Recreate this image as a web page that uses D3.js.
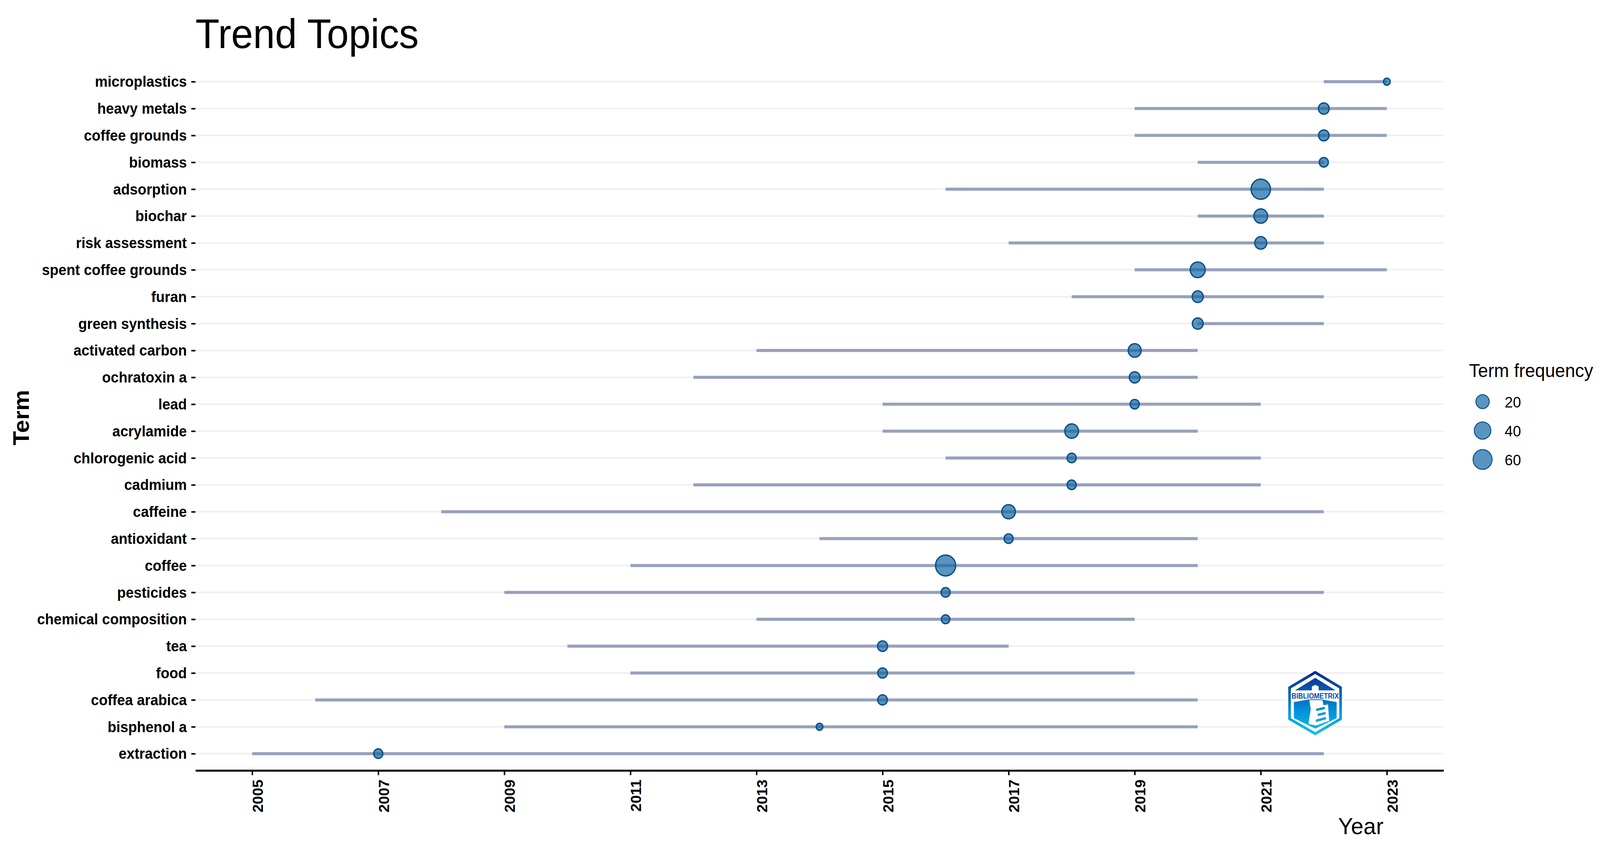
<!DOCTYPE html>
<html>
<head>
<meta charset="utf-8">
<title>Trend Topics</title>
<script src="https://cdn.jsdelivr.net/npm/d3@7/dist/d3.min.js"></script>
<style>
html,body{margin:0;padding:0;background:#fff;width:100%;height:100%;overflow:hidden}
svg{display:block;width:100vw;height:100vh}
text{font-family:"Liberation Sans",Arial,sans-serif;fill:#000}
</style>
</head>
<body>
<svg id="chart" viewBox="0 0 4265 2173" preserveAspectRatio="none"></svg>
<script>
const terms = ["microplastics","heavy metals","coffee grounds","biomass","adsorption","biochar","risk assessment","spent coffee grounds","furan","green synthesis","activated carbon","ochratoxin a","lead","acrylamide","chlorogenic acid","cadmium","caffeine","antioxidant","coffee","pesticides","chemical composition","tea","food","coffea arabica","bisphenol a","extraction"];
const startYears = [2022,2019,2019,2020,2016,2020,2017,2019,2018,2020,2013,2012,2015,2015,2016,2012,2008,2014,2011,2009,2013,2010,2011,2006,2009,2005];
const endYears = [2023,2023,2023,2022,2022,2022,2022,2023,2022,2022,2020,2020,2021,2020,2021,2021,2022,2020,2020,2022,2019,2017,2019,2020,2020,2022];
const medianYears = [2023,2022,2022,2022,2021,2021,2021,2020,2020,2020,2019,2019,2019,2018,2018,2018,2017,2017,2016,2016,2016,2015,2015,2015,2014,2007];
const frequencies = [4,10,9,6,63,22,14,29,11,10,18,10,6,22,6,6,21,6,70,6,5,8,7,7,4,6];
const xTicks = [2005,2007,2009,2011,2013,2015,2017,2019,2021,2023];
const legendValues = [20,40,60];

const FONT_TICK = 38, STROKE = 3.5;
const svg = d3.select("#chart");
const x = d3.scaleLinear().domain([2004.1,2023.9]).range([521,3848]);
const y = d3.scalePoint().domain(terms).range([209,1929]);
const freq01 = d3.scaleLinear().domain([d3.min(frequencies),d3.max(frequencies)]);
const radius = d3.scaleLinear().domain([0,1]).range([10.8,28.5]);
const rOf = f => radius(Math.sqrt(freq01(f))) - STROKE/2;
const rows = terms.map((t,i)=>({term:t,start:startYears[i],end:endYears[i],median:medianYears[i],freq:frequencies[i]}));

// grid
svg.append("g").selectAll("line").data(terms).join("line")
  .attr("x1",x.range()[0]).attr("x2",x.range()[1])
  .attr("y1",d=>y(d)).attr("y2",d=>y(d))
  .attr("stroke","#efefef").attr("stroke-width",4);

// ranges
svg.append("g").selectAll("line").data(rows).join("line")
  .attr("x1",d=>x(d.start)).attr("x2",d=>x(d.end))
  .attr("y1",d=>y(d.term)).attr("y2",d=>y(d.term))
  .attr("stroke","#3b4f85").attr("stroke-opacity",0.5).attr("stroke-width",8);

// points
svg.append("g").selectAll("circle").data(rows).join("circle")
  .attr("cx",d=>x(d.median)).attr("cy",d=>y(d.term)).attr("r",d=>rOf(d.freq))
  .attr("fill","rgb(19,102,162)").attr("fill-opacity",0.7)
  .attr("stroke","#0a4f88").attr("stroke-width",STROKE);

// y axis
const gy = svg.append("g").attr("transform",`translate(${x.range()[0]},0)`)
  .call(d3.axisLeft(y).tickSize(11).tickPadding(12));
gy.select(".domain").remove();
gy.selectAll(".tick line").attr("stroke","#000").attr("stroke-width",4);
gy.selectAll(".tick text").attr("font-size",FONT_TICK).attr("font-weight","bold").attr("font-family",null).attr("dy","0.34em");

// x axis
const gx = svg.append("g").attr("transform","translate(0,1972)")
  .call(d3.axisBottom(x).tickValues(xTicks).tickFormat(d3.format("d")).tickSize(12).tickSizeOuter(0));
gx.select(".domain").attr("stroke","#000").attr("stroke-width",5);
gx.selectAll(".tick line").attr("stroke","#000").attr("stroke-width",4);
gx.selectAll(".tick text")
  .attr("font-size",38).attr("font-weight","bold").attr("font-family",null)
  .attr("transform","rotate(-90)").attr("text-anchor","end")
  .attr("x",-23).attr("y",28).attr("dy",0);

// titles
svg.append("text").attr("x",521).attr("y",123).attr("font-size",105).text("Trend Topics");
svg.append("text").attr("x",3688).attr("y",2135).attr("text-anchor","end").attr("font-size",60).text("Year");
svg.append("text").attr("transform","translate(77,1069) rotate(-90)").attr("text-anchor","middle")
  .attr("font-size",60).attr("font-weight","bold").text("Term");

// legend
svg.append("text").attr("x",3916).attr("y",965).attr("font-size",48).text("Term frequency");
const legendY = d3.scalePoint().domain(legendValues).range([1028,1176]);
const lg = svg.append("g").selectAll("g").data(legendValues).join("g")
  .attr("transform",d=>`translate(0,${legendY(d)})`);
lg.append("circle").attr("cx",3952).attr("cy",0).attr("r",d=>rOf(d))
  .attr("fill","rgb(19,102,162)").attr("fill-opacity",0.7)
  .attr("stroke","#0a4f88").attr("stroke-width",2.5);
lg.append("text").attr("x",4011).attr("y",15).attr("font-size",39).text(d=>d);

// logo (decoration, not data)
const defs = svg.append("defs");
const grad = defs.append("linearGradient").attr("id","logoGrad").attr("gradientUnits","userSpaceOnUse")
  .attr("x1",0).attr("x2",0).attr("y1",1717).attr("y2",1882);
[[0,"#0b2a8a"],[0.3,"#0a57b0"],[0.65,"#0096dc"],[1,"#19c3e0"]].forEach(s=>grad.append("stop").attr("offset",s[0]).attr("stop-color",s[1]));
const logo = svg.append("g");
const outer = "3506,1717 3577,1758 3577,1842 3506,1882 3434,1842 3434,1758";
logo.append("polygon").attr("points",outer).attr("fill","#fff").attr("stroke","#fff").attr("stroke-width",12);
logo.append("polygon").attr("points",outer).attr("fill","url(#logoGrad)");
logo.append("polygon").attr("points","3506,1725 3570,1762 3570,1838 3506,1874 3441,1838 3441,1762").attr("fill","#fff");
logo.append("polygon").attr("points","3506,1735 3560,1767 3452,1767").attr("fill","url(#logoGrad)");
logo.append("polygon").attr("points","3449,1797 3490,1790 3522,1790 3563,1797 3563,1838 3506,1865 3449,1838").attr("fill","url(#logoGrad)");
logo.append("polygon").attr("points","3497,1767 3497,1757 3506,1753 3515,1757 3515,1767").attr("fill","#fff");
logo.append("polygon").attr("points","3490,1792 3525,1792 3528,1805 3540,1803 3543,1845 3508,1857 3488,1853 3490,1838 3494,1815").attr("fill","#fff");
logo.append("polygon").attr("points","3508,1814 3531,1809 3532,1815 3509,1820").attr("fill","url(#logoGrad)");
logo.append("polygon").attr("points","3512,1827 3533,1822 3534,1828 3513,1833").attr("fill","url(#logoGrad)");
logo.append("polygon").attr("points","3507,1842 3534,1835 3535,1841 3508,1848").attr("fill","url(#logoGrad)");
logo.append("text").attr("x",3506).attr("y",1788).attr("text-anchor","middle").attr("font-size",20).attr("font-weight","bold")
  .attr("textLength",126).attr("lengthAdjust","spacingAndGlyphs").style("fill","#0a4ea8").text("BIBLIOMETRIX");
</script>
</body>
</html>
